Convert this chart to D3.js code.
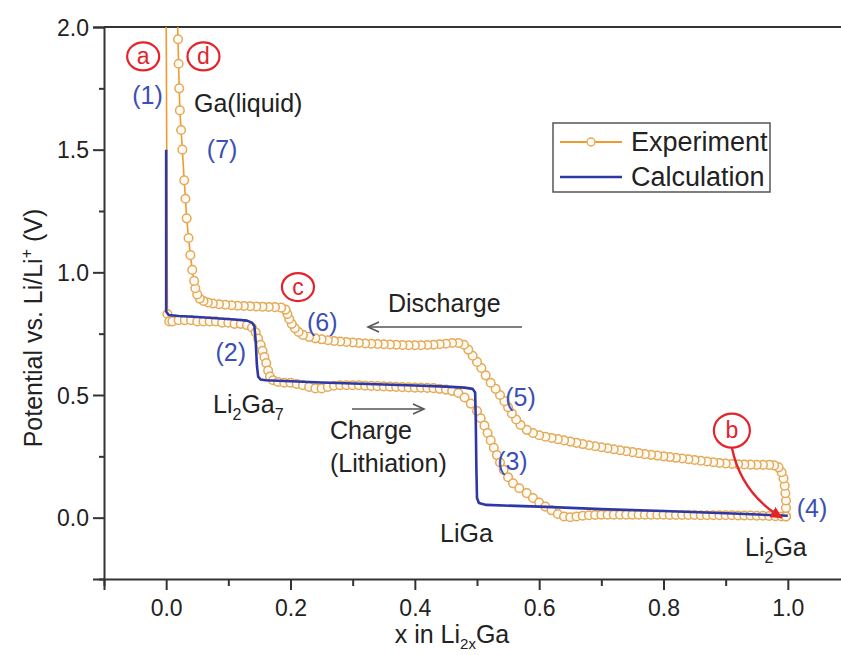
<!DOCTYPE html>
<html>
<head>
<meta charset="utf-8">
<script src="https://cdn.jsdelivr.net/npm/d3@7"></script>
<style>
  body { margin: 0; background: #fff; }
  svg text { font-family: "Liberation Sans", Arial, sans-serif; }
</style>
</head>
<body>
<div id="chart"></div>
<script>
// experiment, charge branch (lithiation), [x, V]
var expCharge = [
    [0.000, 2.05], [0.002, 0.83], [0.005, 0.80], [0.01, 0.80], [0.02, 0.805],
    [0.03, 0.805], [0.04, 0.805], [0.05, 0.80], [0.06, 0.80], [0.07, 0.80],
    [0.08, 0.80], [0.09, 0.795], [0.10, 0.795], [0.11, 0.79], [0.12, 0.79],
    [0.13, 0.785], [0.138, 0.775], [0.144, 0.755], [0.148, 0.73], [0.152, 0.705],
    [0.155, 0.68], [0.158, 0.655], [0.161, 0.63], [0.164, 0.60], [0.167, 0.575],
    [0.172, 0.56], [0.18, 0.553], [0.19, 0.55], [0.20, 0.55], [0.21, 0.545],
    [0.22, 0.54], [0.23, 0.533], [0.24, 0.527], [0.25, 0.527], [0.26, 0.533],
    [0.27, 0.538], [0.28, 0.54], [0.29, 0.54], [0.30, 0.54], [0.31, 0.54],
    [0.32, 0.538], [0.33, 0.537], [0.34, 0.536], [0.35, 0.535], [0.36, 0.534],
    [0.37, 0.533], [0.38, 0.532], [0.39, 0.531], [0.40, 0.53], [0.41, 0.53],
    [0.42, 0.529], [0.43, 0.528], [0.44, 0.525], [0.45, 0.522], [0.46, 0.517],
    [0.47, 0.508], [0.48, 0.49], [0.49, 0.465], [0.50, 0.435], [0.506, 0.405],
    [0.512, 0.375], [0.517, 0.345], [0.522, 0.315], [0.527, 0.285], [0.532, 0.255],
    [0.537, 0.225], [0.543, 0.195], [0.55, 0.165], [0.558, 0.14], [0.568, 0.12],
    [0.58, 0.10], [0.59, 0.08], [0.60, 0.062], [0.61, 0.045], [0.62, 0.03],
    [0.63, 0.015], [0.64, 0.005], [0.65, 0.002], [0.66, 0.005], [0.67, 0.008],
    [0.68, 0.01], [0.69, 0.011], [0.70, 0.012], [0.71, 0.012], [0.72, 0.012],
    [0.73, 0.012], [0.74, 0.012], [0.75, 0.012], [0.76, 0.012], [0.77, 0.012],
    [0.78, 0.012], [0.79, 0.012], [0.80, 0.012], [0.81, 0.011], [0.82, 0.011],
    [0.83, 0.011], [0.84, 0.011], [0.85, 0.011], [0.86, 0.010], [0.87, 0.010],
    [0.88, 0.010], [0.89, 0.010], [0.90, 0.010], [0.91, 0.010], [0.92, 0.009],
    [0.93, 0.009], [0.94, 0.009], [0.95, 0.008], [0.96, 0.008], [0.97, 0.007],
    [0.98, 0.006], [0.99, 0.005], [0.997, 0.005]
];

// experiment, discharge branch (delithiation), [x, V]
var expDischarge = [
    [0.997, 0.005], [0.997, 0.04], [0.997, 0.07], [0.996, 0.10], [0.995, 0.13],
    [0.993, 0.16], [0.99, 0.185], [0.985, 0.205], [0.978, 0.213], [0.97, 0.215],
    [0.96, 0.215], [0.95, 0.215], [0.94, 0.216], [0.93, 0.217], [0.92, 0.218],
    [0.91, 0.219], [0.90, 0.221], [0.89, 0.223], [0.88, 0.226], [0.87, 0.229],
    [0.86, 0.232], [0.85, 0.235], [0.84, 0.238], [0.83, 0.241], [0.82, 0.244],
    [0.81, 0.247], [0.80, 0.25], [0.79, 0.253], [0.78, 0.256], [0.77, 0.259],
    [0.76, 0.263], [0.75, 0.267], [0.74, 0.271], [0.73, 0.275], [0.72, 0.279],
    [0.71, 0.283], [0.70, 0.287], [0.69, 0.291], [0.68, 0.295], [0.67, 0.30],
    [0.66, 0.305], [0.65, 0.31], [0.64, 0.315], [0.63, 0.32], [0.62, 0.325],
    [0.61, 0.33], [0.60, 0.336], [0.59, 0.345], [0.58, 0.358], [0.57, 0.378],
    [0.563, 0.40], [0.556, 0.425], [0.55, 0.45], [0.544, 0.475], [0.537, 0.50],
    [0.53, 0.525], [0.522, 0.55], [0.514, 0.58], [0.507, 0.61], [0.50, 0.635],
    [0.493, 0.66], [0.486, 0.685], [0.479, 0.705], [0.47, 0.712], [0.46, 0.712],
    [0.45, 0.709], [0.44, 0.707], [0.43, 0.705], [0.42, 0.704], [0.41, 0.703],
    [0.40, 0.703], [0.39, 0.703], [0.38, 0.704], [0.37, 0.705], [0.36, 0.706],
    [0.35, 0.707], [0.34, 0.708], [0.33, 0.709], [0.32, 0.71], [0.31, 0.712],
    [0.30, 0.714], [0.29, 0.716], [0.28, 0.718], [0.27, 0.72], [0.26, 0.723],
    [0.25, 0.727], [0.24, 0.731], [0.23, 0.737], [0.22, 0.745], [0.213, 0.757],
    [0.207, 0.772], [0.202, 0.79], [0.198, 0.81], [0.195, 0.83], [0.192, 0.848],
    [0.185, 0.856], [0.175, 0.858], [0.165, 0.859], [0.155, 0.86], [0.145, 0.861],
    [0.135, 0.862], [0.125, 0.863], [0.115, 0.864], [0.105, 0.866], [0.095, 0.868],
    [0.085, 0.87], [0.075, 0.873], [0.067, 0.877], [0.06, 0.883], [0.054, 0.893],
    [0.05, 0.91], [0.047, 0.935], [0.045, 0.965], [0.042, 1.01], [0.039, 1.07],
    [0.036, 1.14], [0.033, 1.22], [0.031, 1.30], [0.029, 1.375], [0.026, 1.50],
    [0.024, 1.58], [0.022, 1.66], [0.021, 1.75], [0.020, 1.85], [0.019, 1.95],
    [0.018, 2.05]
];

// calculated curve, [x, V]
var calc = [
    [0.0, 1.5], [0.0, 0.84], [0.004, 0.826], [0.02, 0.822], [0.05, 0.818],
    [0.08, 0.813], [0.11, 0.808], [0.13, 0.803], [0.138, 0.795], [0.142, 0.78],
    [0.144, 0.72], [0.146, 0.62], [0.148, 0.575], [0.152, 0.563], [0.16, 0.56],
    [0.2, 0.556], [0.25, 0.551], [0.3, 0.547], [0.35, 0.543], [0.4, 0.539],
    [0.45, 0.534], [0.48, 0.53], [0.493, 0.525], [0.497, 0.51], [0.498, 0.40],
    [0.499, 0.20], [0.50, 0.08], [0.503, 0.06], [0.515, 0.052], [0.6, 0.045],
    [0.7, 0.035], [0.8, 0.027], [0.9, 0.018], [1.0, 0.008]
];

var xMajor = [0.0, 0.2, 0.4, 0.6, 0.8, 1.0];
var xMinor = [-0.1, 0.1, 0.3, 0.5, 0.7, 0.9];
var yMajor = [0.0, 0.5, 1.0, 1.5, 2.0];
var yMinor = [-0.25, 0.25, 0.75, 1.25, 1.75];

var seriesNames = ["Experiment", "Calculation"];

// step labels (1)..(7), circled letters: [text, x, V]
var stepLabels = [
    ["(1)", -0.03, 1.72], ["(2)", 0.104, 0.675], ["(3)", 0.557, 0.228],
    ["(4)", 1.039, 0.038], ["(5)", 0.57, 0.49], ["(6)", 0.251, 0.795],
    ["(7)", 0.09, 1.5]
];
var letterLabels = [
    ["a", -0.037, 1.88], ["d", 0.06, 1.88], ["c", 0.212, 0.94], ["b", 0.91, 0.355]
];

var W = 841, H = 655;
var svg = d3.select("#chart").append("svg")
    .attr("width", W).attr("height", H);

var x = d3.scaleLinear().domain([-0.1, 1.1]).range([104, 850]);
var y = d3.scaleLinear().domain([-0.25, 2.0]).range([579, 27]);

var axisColor = "#333";
var orange = "#f39a2c";
var ringColor = "#e3aa5a";
var blue = "#2d37a6";
var labelBlue = "#3c4fb5";
var red = "#e4232b";

svg.append("defs").append("clipPath").attr("id", "plot")
    .append("rect").attr("x", 104).attr("y", 27).attr("width", 746).attr("height", 552);

// axes
var yAxis = svg.append("g").attr("transform", "translate(104,0)")
    .call(d3.axisLeft(y).tickValues(yMajor).tickSize(11).tickFormat(d3.format(".1f")));
svg.append("g").attr("transform", "translate(104,0)")
    .call(d3.axisLeft(y).tickValues(yMinor).tickSize(5).tickFormat(""))
    .select(".domain").remove();
var xAxis = svg.append("g").attr("transform", "translate(0,579)")
    .call(d3.axisBottom(x).tickValues(xMajor).tickSize(11).tickFormat(d3.format(".1f")));
svg.append("g").attr("transform", "translate(0,579)")
    .call(d3.axisBottom(x).tickValues(xMinor).tickSize(7).tickFormat(""))
    .select(".domain").remove();

svg.selectAll(".domain").attr("stroke", axisColor).attr("stroke-width", 2);
svg.selectAll(".tick line").attr("stroke", axisColor).attr("stroke-width", 2);
yAxis.selectAll(".tick text").attr("font-size", 23).attr("fill", "#222")
    .attr("x", -15).attr("dy", "0.36em");
xAxis.selectAll(".tick text").attr("font-size", 23).attr("fill", "#222")
    .attr("y", 21).attr("dy", "0.71em");

// top frame line
svg.append("line").attr("x1", 104).attr("x2", W).attr("y1", y(2.0)).attr("y2", y(2.0))
    .attr("stroke", axisColor).attr("stroke-width", 2);

// axis titles
var xt = svg.append("text").attr("x", 452).attr("y", 643)
    .attr("text-anchor", "middle").attr("font-size", 25).attr("fill", "#222");
xt.append("tspan").text("x in Li");
xt.append("tspan").attr("font-size", 15).attr("dy", 6).text("2x");
xt.append("tspan").attr("dy", -6).text("Ga");

var yt = svg.append("text").attr("transform", "translate(42,328) rotate(-90)")
    .attr("text-anchor", "middle").attr("font-size", 25).attr("fill", "#222");
yt.append("tspan").text("Potential vs. Li/Li");
yt.append("tspan").attr("font-size", 16).attr("dy", -10).text("+");
yt.append("tspan").attr("dy", 10).text(" (V)");

// curves
var line = d3.line().x(function(d){ return x(d[0]); }).y(function(d){ return y(d[1]); });
var plot = svg.append("g").attr("clip-path", "url(#plot)");

[expCharge, expDischarge].forEach(function(branch){
    plot.append("path").datum(branch).attr("d", line)
        .attr("fill", "none").attr("stroke", orange).attr("stroke-width", 1.6);
});
[expCharge, expDischarge].forEach(function(branch){
    plot.append("g").selectAll("circle")
        .data(branch.filter(function(d){ return d[1] < 2.0; }))
        .enter().append("circle")
        .attr("cx", function(d){ return x(d[0]); })
        .attr("cy", function(d){ return y(d[1]); })
        .attr("r", 4.3)
        .attr("fill", "#fffaf2")
        .attr("stroke", ringColor).attr("stroke-width", 1.5);
});
plot.append("path").datum(calc).attr("d", line)
    .attr("fill", "none").attr("stroke", blue).attr("stroke-width", 2.6)
    .attr("stroke-linejoin", "round");

// legend
var lg = svg.append("g");
lg.append("rect").attr("x", 553).attr("y", 123).attr("width", 217).attr("height", 69)
    .attr("fill", "#fff").attr("stroke", "#555").attr("stroke-width", 1.5);
lg.append("line").attr("x1", 560).attr("x2", 622).attr("y1", 142).attr("y2", 142)
    .attr("stroke", orange).attr("stroke-width", 1.8);
lg.append("circle").attr("cx", 591).attr("cy", 142).attr("r", 4)
    .attr("fill", "#fffaf2").attr("stroke", ringColor).attr("stroke-width", 1.4);
lg.append("line").attr("x1", 560).attr("x2", 622).attr("y1", 177).attr("y2", 177)
    .attr("stroke", blue).attr("stroke-width", 2.6);
lg.selectAll("text.lab").data(seriesNames).enter().append("text")
    .attr("x", 631).attr("y", function(d, i){ return 151 + i * 35; })
    .attr("font-size", 27).attr("fill", "#222").text(function(d){ return d; });

// step numbers
svg.selectAll("text.step").data(stepLabels).enter().append("text")
    .attr("class", "step")
    .attr("x", function(d){ return x(d[1]); })
    .attr("y", function(d){ return y(d[2]); })
    .attr("dy", "0.35em").attr("text-anchor", "middle")
    .attr("font-size", 25).attr("fill", labelBlue).text(function(d){ return d[0]; });

// circled letters
var lt = svg.selectAll("g.letter").data(letterLabels).enter().append("g")
    .attr("transform", function(d){ return "translate(" + x(d[1]) + "," + y(d[2]) + ")"; });
lt.append("ellipse").attr("rx", function(d){ return d[0] === "b" ? 18 : 16; })
    .attr("ry", function(d){ return d[0] === "b" ? 17 : 14; })
    .attr("fill", "#fff").attr("stroke", red).attr("stroke-width", 2.2);
lt.append("text").attr("text-anchor", "middle").attr("dy", "0.33em")
    .attr("font-size", 23).attr("fill", red).text(function(d){ return d[0]; });

// red arrow from b
svg.append("defs").append("marker").attr("id", "redhead")
    .attr("viewBox", "0 0 10 10").attr("refX", 9).attr("refY", 5)
    .attr("markerWidth", 5).attr("markerHeight", 5).attr("orient", "auto")
    .append("path").attr("d", "M0,0L10,5L0,10z").attr("fill", red);
svg.append("path")
    .attr("d", "M" + x(0.91) + "," + y(0.285) + " Q" + x(0.925) + "," + y(0.1) + " " + x(0.99) + "," + y(0.0))
    .attr("fill", "none").attr("stroke", red).attr("stroke-width", 2.4)
    .attr("marker-end", "url(#redhead)");

// grey direction arrows
function greyArrow(x1, x2, yy) {
    var dir = x2 > x1 ? -1 : 1;
    svg.append("line").attr("x1", x1).attr("x2", x2).attr("y1", yy).attr("y2", yy)
        .attr("stroke", "#555").attr("stroke-width", 1.6);
    svg.append("path")
        .attr("d", "M" + (x2 + dir * 11) + "," + (yy - 5) + "L" + x2 + "," + yy + "L" + (x2 + dir * 11) + "," + (yy + 5))
        .attr("fill", "none").attr("stroke", "#555").attr("stroke-width", 1.6);
}
greyArrow(522, 368, 327);
greyArrow(352, 424, 409);

// phase / process text
function txt(str, xx, yy) {
    return svg.append("text").attr("x", xx).attr("y", yy)
        .attr("font-size", 25).attr("fill", "#222").text(str);
}
txt("Ga(liquid)", 194, 112);
txt("Discharge", 388, 312);
txt("Charge", 330, 439);
txt("(Lithiation)", 330, 472);
txt("LiGa", 440, 542);

var t1 = txt("", 213, 413);
t1.append("tspan").text("Li");
t1.append("tspan").attr("font-size", 16).attr("dy", 7).text("2");
t1.append("tspan").attr("dy", -7).text("Ga");
t1.append("tspan").attr("font-size", 16).attr("dy", 7).text("7");

var t2 = txt("", 745, 556);
t2.append("tspan").text("Li");
t2.append("tspan").attr("font-size", 16).attr("dy", 7).text("2");
t2.append("tspan").attr("dy", -7).text("Ga");
</script>
</body>
</html>
